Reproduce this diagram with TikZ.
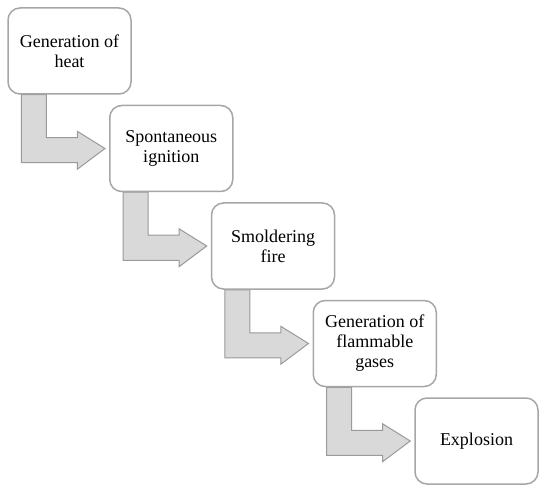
\documentclass[tikz,border=0pt]{standalone}
\usepackage{fontspec}
\setmainfont{Liberation Serif}
\usetikzlibrary{calc,backgrounds}
\definecolor{boxgray}{HTML}{A6A6A6}
\definecolor{arrowfill}{HTML}{D9D9D9}
\definecolor{arrowline}{HTML}{9A9A9A}
\begin{document}
\begin{tikzpicture}[x=1pt,y=-1pt,
  stage/.style={draw=boxgray, line width=1.5pt, rounded corners=12pt, fill=white,
    minimum width=123pt, minimum height=86pt, align=center, inner sep=2pt,
    font=\fontsize{18}{20}\selectfont},
  bentarrow/.style={fill=arrowfill, draw=arrowline, line width=1pt, line join=miter}]
\useasboundingbox (0,0) rectangle (550,495);
\node[stage] (b1) at (69.5,51) {Generation of\\heat};
\node[stage] (b2) at (171.25,148.5) {Spontaneous\\ignition};
\node[stage] (b3) at (273,246) {Smoldering\\fire};
\node[stage] (b4) at (374.75,343.5) {Generation of\\flammable\\gases};
\node[stage] (b5) at (476.5,441) {Explosion};
\begin{pgfonlayer}{background}
\foreach \a/\b in {b1/b2,b2/b3,b3/b4,b4/b5}{
  \draw[bentarrow]
    ($(\a.south west)+(14,0)$) -- ($(\a.south west)+(14,68)$)
    -- ($(\a.south west)+(70,68)$) -- ($(\a.south west)+(70,74.5)$)
    -- ($(\b.west)!4pt!(\a.south west |- \b.west)$) -- ($(\a.south west)+(70,36.5)$)
    -- ($(\a.south west)+(70,43)$) -- ($(\a.south west)+(39,43)$)
    -- ($(\a.south west)+(39,0)$) -- cycle;
}
\end{pgfonlayer}
\end{tikzpicture}
\end{document}
